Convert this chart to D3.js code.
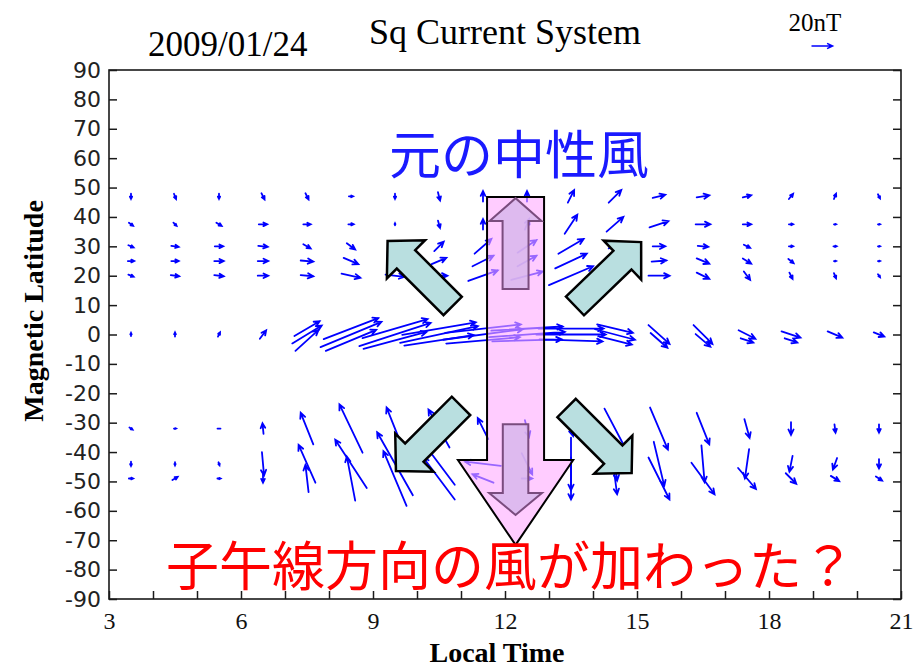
<!DOCTYPE html>
<html>
<head>
<meta charset="utf-8">
<script src="https://cdn.jsdelivr.net/npm/d3@7"></script>
<style>
body { margin: 0; background: #fff; }
</style>
</head>
<body>
<div id="container"></div>
<script>
"use strict";

const width = 923;
const height = 671;

// local time of each station column (hours)
const localTimes = [3.5, 4.5, 5.5, 6.5, 7.5, 8.5, 9.5, 10.5, 11.5, 12.5, 13.5, 14.5, 15.5, 16.5, 17.5, 18.5, 19.5, 20.5];

// magnetic latitude of each row of vectors
const latitudes = [47, 37.5, 30, 25, 20, 2, 0, -2, -32, -44, -49];

// eastward component (nT), one list per latitude row
const eastNT = [
    [0, 2, 0, 3, 3, 4, 0, 2, 0, 0, 6, 12, 12, 12, 8, 4, 2, 2],
    [4, 3, 5, 8, 7, 5, 0, 2, 0, 4, 12, 16, 18, 14, 8, 4, 2, 2],
    [5, 7, 8, 9, 7, 8, 0, 9, 16, 18, 24, 12, 12, 10, 6, 4, 3, 2],
    [6, 7, 9, 10, 12, 14, 6, 14, 20, 18, 30, 12, 14, 12, 8, 5, 2, 2],
    [5, 8, 9, 10, 12, 18, 18, 16, 28, 30, 42, 16, 20, 12, 6, 3, 2, 2],
    [0, 0, 0, 0, 24, 52, 62, 70, 72, 68, 62, 34, 0, 0, 0, 0, 0, 0],
    [0, 0, 2, 6, 28, 58, 68, 74, 76, 72, 66, 38, 20, 18, 16, 18, 14, 10],
    [0, 0, 0, 0, 22, 48, 60, 66, 70, 66, 60, 32, 16, 14, 12, 12, 0, 0],
    [3, 2, 1, -1, -12, -22, -16, -20, -10, 4, 4, 20, 17, 12, 5, 0, 1, 0],
    [0, 0, 1, 2, -16, -30, -34, -30, -34, 10, 0, 4, 10, 3, -4, -3, -4, 0],
    [4, 5, 3, 0, -3, -8, -22, -30, -20, 10, 0, 4, 20, 22, 17, 10, 8, 6]
];

// northward component (nT), one list per latitude row
const northNT = [
    [-5, -5, -5, -6, -6, 0, -5, -8, 10, 10, 12, 12, 3, 2, 2, 5, 5, -4],
    [-3, -3, -3, 0, 0, 0, 2, -7, 10, 10, 18, 14, 6, 0, 0, 0, 0, 0],
    [-2, -1, 0, -1, -4, -6, 0, 9, 14, 12, 14, 4, 0, -1, -3, 0, 0, 0],
    [0, 0, 0, 0, -1, -6, 0, 6, 10, 10, 14, 4, 1, -5, -5, -4, 0, 0],
    [-2, -1, -1, 0, -1, -4, -2, 0, 10, 8, 18, 2, 0, -6, -8, -6, -5, -3],
    [0, 0, 0, 0, 14, 20, 18, 12, 8, 4, 0, -8, 0, 0, 0, 0, 0, 0],
    [3, 4, 4, 8, 17, 24, 22, 16, 10, 5, 0, -10, -18, -18, -8, -6, -6, -4],
    [0, 0, 0, 0, 20, 20, 16, 10, 6, 2, -2, -8, -14, -12, -4, -4, 0, 0],
    [-2, 0, 0, 10, 30, 46, 40, 36, 20, -16, -14, -38, -40, -30, -18, -12, -8, -8],
    [-4, -3, -3, -22, 36, 46, 60, 40, 4, -20, -50, -32, -42, -35, -28, -15, -11, -9],
    [0, 3, 0, -8, 26, 42, 52, 40, 8, 0, -40, -30, -40, -30, -20, -10, -5, -4]
];

const latTicks = d3.range(-90, 91, 10);
const hourTicks = d3.range(3, 22, 1);
const legendNT = 20;

const x = d3.scaleLinear().domain([3, 21]).range([109, 901]);
const y = d3.scaleLinear().domain([-90, 90]).range([599, 70]);
// nT -> pixels for the vector length
const len = d3.scaleLinear().domain([0, 20]).range([0, 21]);

const svg = d3.select("#container").append("svg")
    .attr("width", width)
    .attr("height", height);

// build the vectors, centred on each grid point (skip empty ones)
let vectors = [];
latitudes.forEach((lat, i) => {
    localTimes.forEach((lt, j) => {
        let e = eastNT[i][j], n = northNT[i][j];
        if (e !== 0 || n !== 0) vectors.push({lt: lt, lat: lat, e: e, n: n});
    });
});

function arrowPath(cx, cy, dx, dy) {
    let x0 = cx - dx / 2, y0 = cy - dy / 2;
    let x1 = cx + dx / 2, y1 = cy + dy / 2;
    let l = Math.hypot(dx, dy);
    if (l < 2) return "M" + (cx - 1.5) + "," + cy + "L" + (cx + 1.5) + "," + cy;
    let a = Math.atan2(dy, dx);
    let h = Math.min(6, l * 0.5);
    let b1 = [x1 - h * Math.cos(a - 0.45), y1 - h * Math.sin(a - 0.45)];
    let b2 = [x1 - h * Math.cos(a + 0.45), y1 - h * Math.sin(a + 0.45)];
    return "M" + x0 + "," + y0 + "L" + x1 + "," + y1 +
        "M" + b1 + "L" + x1 + "," + y1 + "L" + b2;
}

svg.append("g").selectAll("path")
    .data(vectors)
    .join("path")
    .attr("d", d => arrowPath(x(d.lt), y(d.lat), len(d.e), -len(d.n)))
    .style("fill", "none")
    .style("stroke", "#0000ff")
    .style("stroke-width", 1.8)
    .style("stroke-linecap", "round");

// frame and axes
svg.append("rect")
    .attr("x", x(3)).attr("y", y(90))
    .attr("width", x(21) - x(3)).attr("height", y(-90) - y(90))
    .style("fill", "none").style("stroke", "#1a1a1a").style("stroke-width", 1.6);

let xAxis = svg.append("g")
    .attr("transform", "translate(0," + y(-90) + ")")
    .call(d3.axisBottom(x).tickValues(hourTicks).tickSize(-8).tickPadding(13)
        .tickFormat(d => d % 3 === 0 ? String(d) : ""));

let yAxis = svg.append("g")
    .attr("transform", "translate(" + x(3) + ",0)")
    .call(d3.axisLeft(y).tickValues(latTicks).tickSize(-8).tickPadding(8)
        .tickFormat(d => String(d)));

let yAxisR = svg.append("g")
    .attr("transform", "translate(" + x(21) + ",0)")
    .call(d3.axisRight(y).tickValues(latTicks).tickSize(-8).tickFormat(""));

[xAxis, yAxis, yAxisR].forEach(g => {
    g.select(".domain").remove();
    g.selectAll("line").style("stroke", "#1a1a1a").style("stroke-width", 1.5);
});
xAxis.selectAll("text")
    .style("font-family", "'Liberation Serif', serif")
    .style("font-size", "24px").style("fill", "#111");
yAxis.selectAll("text")
    .style("font-family", "'DejaVu Sans', sans-serif")
    .style("font-size", "22px").style("fill", "#222");

svg.append("text")
    .attr("x", (x(3) + x(21)) / 2 - 8).attr("y", 662)
    .attr("text-anchor", "middle")
    .style("font-family", "'Liberation Serif', serif")
    .style("font-weight", "bold").style("font-size", "28px")
    .text("Local Time");

svg.append("text")
    .attr("transform", "translate(43," + y(8) + ") rotate(-90)")
    .attr("text-anchor", "middle")
    .style("font-family", "'Liberation Serif', serif")
    .style("font-weight", "bold").style("font-size", "28px")
    .text("Magnetic Latitude");

// titles
svg.append("text")
    .attr("x", 148).attr("y", 56)
    .style("font-family", "'Liberation Serif', serif").style("font-size", "35px")
    .text("2009/01/24");
svg.append("text")
    .attr("x", 505).attr("y", 44)
    .attr("text-anchor", "middle")
    .style("font-family", "'Liberation Serif', serif").style("font-size", "36px")
    .text("Sq Current System");
svg.append("text")
    .attr("x", 815).attr("y", 31)
    .attr("text-anchor", "middle")
    .style("font-family", "'Liberation Serif', serif").style("font-size", "25px")
    .text("20nT");
svg.append("path")
    .attr("d", arrowPath(822, 46, len(legendNT), 0))
    .style("fill", "none").style("stroke", "#0000ff").style("stroke-width", 1.6);

// annotation: vertical block arrows (pink, translucent) in data coordinates
function vArrow(lt, latTail, latBase, latTip, shaftHalf, headHalf) {
    let pts = [
        [x(lt - shaftHalf), y(latTail)], [x(lt + shaftHalf), y(latTail)],
        [x(lt + shaftHalf), y(latBase)], [x(lt + headHalf), y(latBase)],
        [x(lt), y(latTip)],
        [x(lt - headHalf), y(latBase)], [x(lt - shaftHalf), y(latBase)]
    ];
    return "M" + pts.join("L") + "Z";
}

svg.append("path")
    .attr("d", vArrow(12.24, 46.8, -42.7, -71.6, 0.648, 1.31))
    .style("fill", "rgb(255,170,255)").style("fill-opacity", 0.6)
    .style("stroke", "#000").style("stroke-width", 2);

svg.append("path")
    .attr("d", vArrow(12.24, 15.5, 38.6, 46.4, 0.295, 0.59))
    .style("fill", "#d8b6ec").style("fill-opacity", 0.85)
    .style("stroke", "#7a4c7e").style("stroke-width", 2);
svg.append("path")
    .attr("d", vArrow(12.24, -30.5, -53.9, -61.4, 0.29, 0.6))
    .style("fill", "#d8b6ec").style("fill-opacity", 0.85)
    .style("stroke", "#7a4c7e").style("stroke-width", 2);

// annotation: diagonal teal arrows (tail centre in data coords, angle in degrees)
const tealArrows = [
    {lt: 10.81, lat: 9.7, angle: -135},
    {lt: 13.59, lat: 9.7, angle: -44},
    {lt: 11.0, lat: -24.3, angle: 135},
    {lt: 13.4, lat: -25.0, angle: 45}
];
function blockArrow(l, sw, hw, hl) {
    return "M0," + (-sw) + "L" + (l - hl) + "," + (-sw) + "L" + (l - hl) + "," + (-hw) +
        "L" + l + ",0L" + (l - hl) + "," + hw + "L" + (l - hl) + "," + sw + "L0," + sw + "Z";
}
svg.append("g").selectAll("path")
    .data(tealArrows)
    .join("path")
    .attr("transform", d => "translate(" + x(d.lt) + "," + y(d.lat) + ") rotate(" + d.angle + ")")
    .attr("d", blockArrow(92, 13, 27, 26))
    .style("fill", "#b9dfe0")
    .style("stroke", "#000").style("stroke-width", 2.5)
    .style("stroke-linejoin", "miter");

// Japanese annotations
svg.append("text")
    .attr("x", 519).attr("y", 174)
    .attr("text-anchor", "middle")
    .style("font-family", "'Noto Sans CJK JP', sans-serif").style("font-size", "52px")
    .style("fill", "#1a1aff")
    .text("元の中性風");
svg.append("text")
    .attr("x", 166).attr("y", 586)
    .style("font-family", "'Noto Sans CJK JP', sans-serif").style("font-size", "53px")
    .style("fill", "#ff0000")
    .text("子午線方向の風が加わった？");
</script>
</body>
</html>
